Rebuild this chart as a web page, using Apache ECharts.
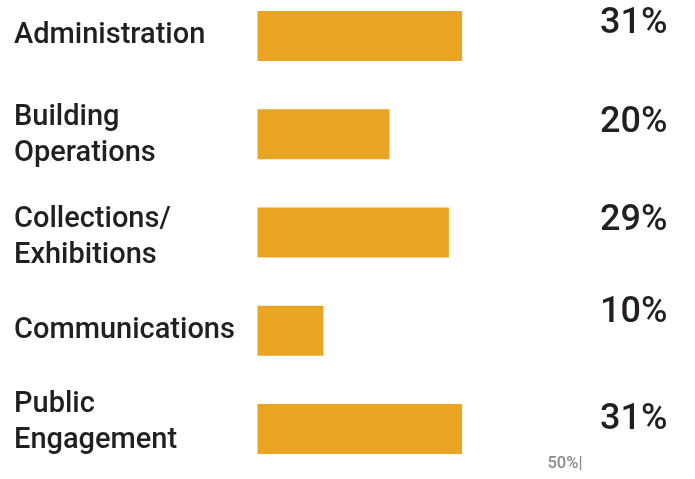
<!DOCTYPE html>
<html>
<head>
<meta charset="utf-8">
<script src="https://cdn.jsdelivr.net/npm/echarts@6/dist/echarts.min.js"></script>
<style>
  html, body { margin: 0; padding: 0; background: #ffffff; }
  #chart { width: 695px; height: 479px; }
</style>
</head>
<body>
<div id="chart"></div>
<script>
// Share of effort by department (percent)
const categories = ['Administration', 'Building\nOperations', 'Collections/\nExhibitions', 'Communications', 'Public\nEngagement'];
const values = [31, 20, 29, 10, 31];
const axisMax = 50;
const axisTickLabel = '50%|';

const BAR_COLOR = '#E9A423';
const TEXT_COLOR = '#231F20';

// Vertical nudge (px, + = down) for each category name
const nameNudge = [0, 1.5, 5, 0, -6.5];
const nameRich = {};
nameNudge.forEach((n, i) => {
  nameRich['c' + i] = {
    fontFamily: 'Roboto',
    fontWeight: 500,
    fontSize: 29,
    lineHeight: 36,
    color: TEXT_COLOR,
    padding: n >= 0 ? [2 * n, 0, 0, 0] : [0, 0, -2 * n, 0]
  };
});

// Bottom padding that lifts each percentage label above its bar's centre line
const valueLabelLift = [25, 22, 22.5, 35, 17.5];
const valueRich = {};
valueLabelLift.forEach((pb, i) => {
  valueRich['v' + i] = {
    fontFamily: 'Roboto',
    fontWeight: 500,
    fontSize: 36,
    color: TEXT_COLOR,
    padding: [0, 0, pb, 0]
  };
});

const chart = echarts.init(document.getElementById('chart'), null, { renderer: 'canvas' });

chart.setOption({
  animation: false,
  backgroundColor: '#ffffff',
  grid: {
    left: 257.5, right: 107.5, top: -13.1, height: 491.25,
    containLabel: false, outerBoundsMode: 'none'
  },
  xAxis: {
    type: 'value',
    min: 0,
    max: axisMax,
    interval: axisMax,
    splitLine: { show: false },
    axisLine: { show: false },
    axisTick: { show: false },
    axisLabel: {
      inside: true,
      margin: 6,
      align: 'right',
      verticalAlign: 'bottom',
      padding: [0, 5, 0, 0],
      fontFamily: 'Roboto',
      fontWeight: 500,
      fontSize: 16.5,
      color: '#8a8a8a',
      formatter: v => (v === axisMax ? axisTickLabel : '')
    }
  },
  yAxis: [
    {
      type: 'category',
      data: categories,
      inverse: true,
      axisLine: { show: false },
      axisTick: { show: false },
      axisLabel: {
        align: 'left',
        margin: 243.5,
        fontFamily: 'Roboto',
        fontWeight: 500,
        fontSize: 29,
        lineHeight: 36,
        color: TEXT_COLOR,
        rich: nameRich,
        formatter: (v, i) => v.split('\n').map(line => '{c' + i + '|' + line + '}').join('\n')
      }
    },
    {
      type: 'category',
      data: categories,
      inverse: true,
      position: 'right',
      axisLine: { show: false },
      axisTick: { show: false },
      axisLabel: {
        align: 'left',
        margin: 12.5,
        fontFamily: 'Roboto',
        fontWeight: 500,
        fontSize: 36,
        color: TEXT_COLOR,
        rich: valueRich,
        formatter: (v, i) => '{v' + i + '|' + values[i] + '%}'
      }
    }
  ],
  series: [
    {
      type: 'bar',
      data: values,
      barWidth: 50,
      itemStyle: { color: BAR_COLOR },
      label: { show: false }
    }
  ]
});
</script>
</body>
</html>
